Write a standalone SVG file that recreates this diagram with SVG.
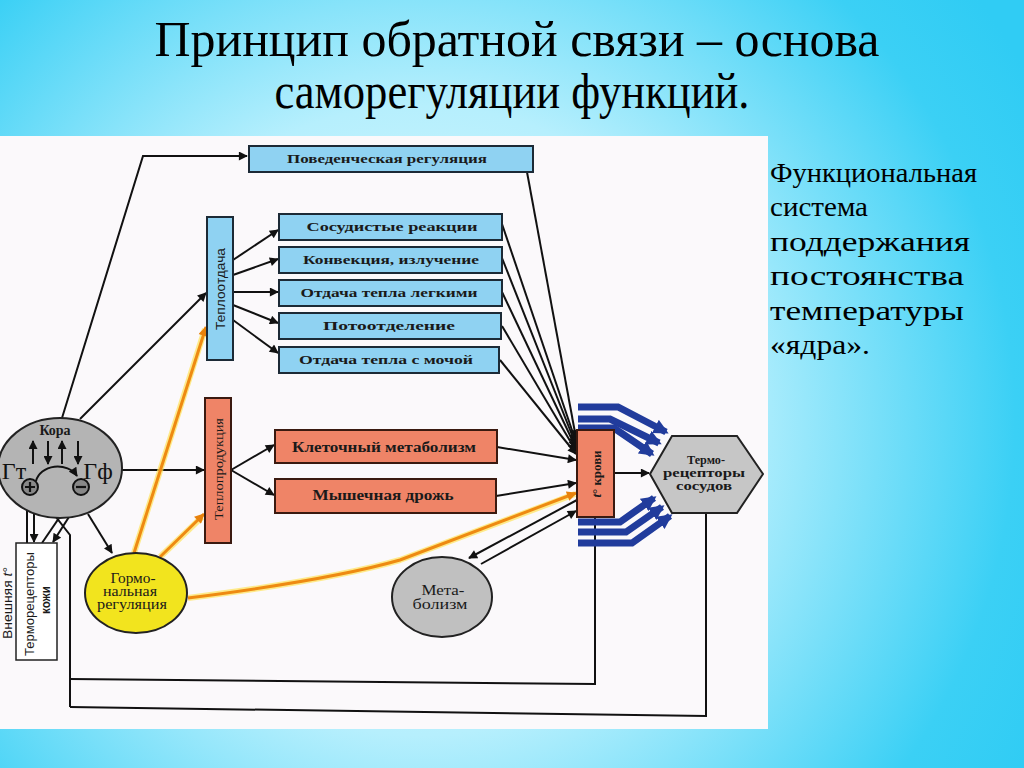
<svg xmlns="http://www.w3.org/2000/svg" width="1024" height="768" viewBox="0 0 1024 768">
<defs>
<radialGradient id="bg" cx="420" cy="420" r="700" gradientUnits="userSpaceOnUse">
<stop offset="0" stop-color="#e8fcff"/>
<stop offset="0.45" stop-color="#b6effd"/>
<stop offset="0.85" stop-color="#3bd0f5"/>
<stop offset="1" stop-color="#30ccf4"/>
</radialGradient>
<marker id="ah" viewBox="0 0 10 10" refX="9" refY="5" markerWidth="11" markerHeight="9" markerUnits="userSpaceOnUse" orient="auto"><path d="M0,0 L10,5 L0,10 z" fill="#111"/></marker>
<marker id="ao" viewBox="0 0 10 10" refX="9" refY="5" markerWidth="12" markerHeight="10" markerUnits="userSpaceOnUse" orient="auto"><path d="M0,0 L10,5 L0,10 z" fill="#e8820c"/></marker>
<marker id="ab" viewBox="0 0 10 10" refX="8" refY="5" markerWidth="15" markerHeight="15" markerUnits="userSpaceOnUse" orient="auto"><path d="M0,0 L10,5 L0,10 z" fill="#213c9c"/></marker>
<style>
.blue{fill:#8fd2f2;stroke:#1c2a36;stroke-width:2}
.sal{fill:#ef8467;stroke:#3a1a10;stroke-width:2}
.grey{fill:#b4b4b4;stroke:#222;stroke-width:2}
.ln{fill:none;stroke:#111;stroke-width:2}
.la{fill:none;stroke:#111;stroke-width:2;marker-end:url(#ah)}
.glow{fill:none;stroke:#ffe45a;stroke-width:6;stroke-opacity:0.7}
.or{fill:none;stroke:#ee8a12;stroke-width:3;marker-end:url(#ao)}
.bb{fill:none;stroke:#213c9c;stroke-width:7;marker-end:url(#ab)}
.bt{font-family:"Liberation Serif","DejaVu Serif",serif;font-weight:bold;font-size:13px;fill:#1a1a1a;text-anchor:middle}
.st{font-family:"Liberation Sans","DejaVu Sans",sans-serif;font-size:13px;fill:#1a1a1a;text-anchor:middle}
.sr{font-family:"Liberation Serif","DejaVu Serif",serif;font-size:14px;fill:#1a1a1a;text-anchor:middle}
.big{font-family:"Liberation Serif","DejaVu Serif",serif;font-size:24px;fill:#111;text-anchor:middle}
.title{font-family:"Liberation Serif","DejaVu Serif",serif;font-size:50px;fill:#000;text-anchor:middle}
.side{font-family:"Liberation Serif","DejaVu Serif",serif;font-size:28px;fill:#000}
</style>
</defs>
<rect x="0" y="0" width="1024" height="768" fill="url(#bg)"/>
<rect x="0" y="136" width="768" height="593" fill="#fbf9fb"/>

<g id="title">
<text class="title" x="517" y="56" textLength="725" lengthAdjust="spacingAndGlyphs">Принцип обратной связи – основа</text>
<text class="title" x="512" y="108" textLength="475" lengthAdjust="spacingAndGlyphs">саморегуляции функций.</text>
</g>
<g id="side-text">
<text class="side" x="770" y="182" textLength="207" lengthAdjust="spacingAndGlyphs">Функциональная</text>
<text class="side" x="770" y="216" textLength="98" lengthAdjust="spacingAndGlyphs">система</text>
<text class="side" x="770" y="251" textLength="200" lengthAdjust="spacingAndGlyphs">поддержания</text>
<text class="side" x="770" y="285" textLength="194" lengthAdjust="spacingAndGlyphs">постоянства</text>
<text class="side" x="770" y="320" textLength="194" lengthAdjust="spacingAndGlyphs">температуры</text>
<text class="side" x="770" y="354" textLength="100" lengthAdjust="spacingAndGlyphs">«ядра».</text>
</g>

<g id="connectors">
<polyline class="la" points="62,418 143,156 247,156"/>
<line class="la" x1="80" y1="419" x2="206" y2="293"/>
<line class="la" x1="122" y1="470" x2="204" y2="470"/>
<line class="la" x1="88" y1="514" x2="112" y2="553"/>
<line class="la" x1="233" y1="260" x2="278" y2="230"/>
<line class="la" x1="233" y1="275" x2="278" y2="259"/>
<line class="la" x1="233" y1="292" x2="278" y2="292"/>
<line class="la" x1="233" y1="305" x2="278" y2="323"/>
<line class="la" x1="233" y1="320" x2="278" y2="353"/>
<line class="la" x1="231" y1="470" x2="274" y2="445"/>
<line class="la" x1="231" y1="470" x2="274" y2="495"/>
<line class="la" x1="527" y1="172" x2="576" y2="438"/>
<line class="la" x1="502" y1="224" x2="576" y2="442"/>
<line class="la" x1="502" y1="258" x2="576" y2="445"/>
<line class="la" x1="502" y1="292" x2="576" y2="448"/>
<line class="la" x1="502" y1="326" x2="576" y2="451"/>
<line class="la" x1="500" y1="360" x2="576" y2="454"/>
<line class="la" x1="497" y1="447" x2="576" y2="460"/>
<line class="la" x1="496" y1="496" x2="576" y2="483"/>
<line class="la" x1="577" y1="500" x2="469" y2="558"/>
<line class="la" x1="481" y1="564" x2="576" y2="511"/>
<line class="la" x1="614" y1="473" x2="649" y2="473"/>
<polyline class="ln" points="595,517 595,684 70,679"/>
<polyline class="ln" points="706,513 706,716 70,707"/>
<polyline class="la" points="70,707 70,535 38,494"/>
<line class="la" x1="27" y1="543" x2="27" y2="496"/>
<line class="la" x1="34" y1="495" x2="34" y2="542"/>
<line class="la" x1="42" y1="543" x2="74" y2="496"/>
<line class="la" x1="83" y1="495" x2="53" y2="542"/>
<line class="glow" x1="134" y1="553" x2="205" y2="329"/>
<line class="or" x1="134" y1="553" x2="206" y2="327"/>
<line class="glow" x1="160" y1="557" x2="202" y2="517"/>
<line class="or" x1="160" y1="557" x2="204" y2="514"/>
<path class="glow" d="M188,598 Q330,580 400,560 L575,494"/>
<path class="or" d="M188,598 Q330,580 400,560 L576,493"/>
<polyline class="bb" points="578,407 618,407 666,432"/>
<polyline class="bb" points="578,419 610,419 659,443"/>
<polyline class="bb" points="578,428 614,428 652,454"/>
<polyline class="bb" points="578,522 620,522 654,498"/>
<polyline class="bb" points="578,532 626,532 662,507"/>
<polyline class="bb" points="578,543 632,543 670,516"/>
</g>

<g id="kora">
<ellipse class="grey" cx="60" cy="468" rx="62" ry="50"/>
<text class="bt" x="55" y="435" style="font-size:14px">Кора</text>
<line class="la" x1="33" y1="464" x2="33" y2="441"/>
<line class="la" x1="48" y1="441" x2="48" y2="464"/>
<line class="la" x1="62" y1="464" x2="62" y2="441"/>
<line class="la" x1="78" y1="441" x2="78" y2="464"/>
<text class="big" x="14" y="479">Гт</text>
<text class="big" x="98" y="479">Гф</text>
<path class="la" d="M36,481 A22,18 0 0 1 77,476"/>
<circle cx="30" cy="487" r="8" fill="#888" stroke="#111" stroke-width="2"/>
<path d="M25,487 H35 M30,482 V492" stroke="#111" stroke-width="2.2"/>
<circle cx="81" cy="487" r="8" fill="#888" stroke="#111" stroke-width="2"/>
<path d="M76,487 H86" stroke="#111" stroke-width="2.2"/>
</g>

<g id="povedencheskaya">
<rect class="blue" x="249" y="146" width="284" height="26"/>
<text class="bt" x="387" y="163" textLength="200" lengthAdjust="spacingAndGlyphs">Поведенческая регуляция</text>
</g>
<g id="teplootdacha">
<rect class="blue" x="207" y="217" width="26" height="143"/>
<text class="st" transform="translate(220,289) rotate(-90)" dominant-baseline="central" textLength="82" lengthAdjust="spacingAndGlyphs">Теплоотдача</text>
</g>
<g id="sosudistye">
<rect class="blue" x="279" y="214" width="223" height="26"/>
<text class="bt" x="392" y="231" textLength="171" lengthAdjust="spacingAndGlyphs">Сосудистые реакции</text>
</g>
<g id="konvektsiya">
<rect class="blue" x="279" y="247" width="223" height="26"/>
<text class="bt" x="391" y="264" textLength="176" lengthAdjust="spacingAndGlyphs">Конвекция, излучение</text>
</g>
<g id="legkimi">
<rect class="blue" x="279" y="280" width="223" height="26"/>
<text class="bt" x="389" y="297" textLength="177" lengthAdjust="spacingAndGlyphs">Отдача тепла легкими</text>
</g>
<g id="potootdelenie">
<rect class="blue" x="279" y="313" width="222" height="26"/>
<text class="bt" x="389" y="330" textLength="132" lengthAdjust="spacingAndGlyphs">Потоотделение</text>
</g>
<g id="mochoy">
<rect class="blue" x="279" y="347" width="220" height="26"/>
<text class="bt" x="386" y="364" textLength="174" lengthAdjust="spacingAndGlyphs">Отдача тепла с мочой</text>
</g>

<g id="teploproduktsiya">
<rect class="sal" x="205" y="398" width="26" height="145"/>
<text class="sr" transform="translate(218,469) rotate(-90)" dominant-baseline="central" style="font-size:13px" textLength="102" lengthAdjust="spacingAndGlyphs">Теплопродукция</text>
</g>
<g id="kletochny">
<rect class="sal" x="275" y="430" width="222" height="33"/>
<text class="bt" x="384" y="452" style="font-size:14px" textLength="184" lengthAdjust="spacingAndGlyphs">Клеточный метаболизм</text>
</g>
<g id="drozh">
<rect class="sal" x="275" y="479" width="221" height="34"/>
<text class="bt" x="383" y="500" style="font-size:14px" textLength="141" lengthAdjust="spacingAndGlyphs">Мышечная дрожь</text>
</g>

<g id="t-krovi">
<rect class="sal" x="577" y="430" width="37" height="87"/>
<text class="bt" transform="translate(596,474) rotate(-90)" dominant-baseline="central" textLength="47" lengthAdjust="spacingAndGlyphs"><tspan font-style="italic">t</tspan>° крови</text>
</g>

<g id="termoretseptory-sosudov">
<polygon class="grey" points="650,474 672,436 737,436 763,474 737,513 672,513" style="fill:#c6c6c6"/>
<text class="bt" x="706" y="464" textLength="38" lengthAdjust="spacingAndGlyphs">Термо-</text>
<text class="bt" x="704" y="477" textLength="82" lengthAdjust="spacingAndGlyphs">рецепторы</text>
<text class="bt" x="704" y="490" textLength="56" lengthAdjust="spacingAndGlyphs">сосудов</text>
</g>

<g id="metabolizm">
<ellipse class="grey" cx="442" cy="597" rx="50" ry="40" style="fill:#c0c0c0"/>
<text class="sr" x="443" y="595" textLength="43" lengthAdjust="spacingAndGlyphs">Мета-</text>
<text class="sr" x="440" y="609" textLength="55" lengthAdjust="spacingAndGlyphs">болизм</text>
</g>

<g id="gormonalnaya">
<ellipse cx="136" cy="593" rx="51" ry="40" fill="#f2e41e" stroke="#222" stroke-width="2"/>
<text class="sr" x="133" y="583" textLength="45" lengthAdjust="spacingAndGlyphs">Гормо-</text>
<text class="sr" x="130" y="596" textLength="54" lengthAdjust="spacingAndGlyphs">нальная</text>
<text class="sr" x="132" y="609" textLength="70" lengthAdjust="spacingAndGlyphs">регуляция</text>
</g>

<g id="termoretseptory-kozhi">
<rect x="16" y="543" width="41" height="117" fill="#fff" stroke="#222" stroke-width="1.5"/>
<text class="st" transform="translate(29,604) rotate(-90)" dominant-baseline="central" textLength="104" lengthAdjust="spacingAndGlyphs">Терморецепторы</text>
<text class="st" transform="translate(45,600) rotate(-90)" dominant-baseline="central" style="font-weight:bold" textLength="28" lengthAdjust="spacingAndGlyphs">кожи</text>
</g>
<g id="vneshnyaya">
<text class="st" transform="translate(7,603) rotate(-90)" dominant-baseline="central" textLength="72" lengthAdjust="spacingAndGlyphs">Внешняя <tspan font-style="italic">t</tspan>°</text>
</g>
</svg>
